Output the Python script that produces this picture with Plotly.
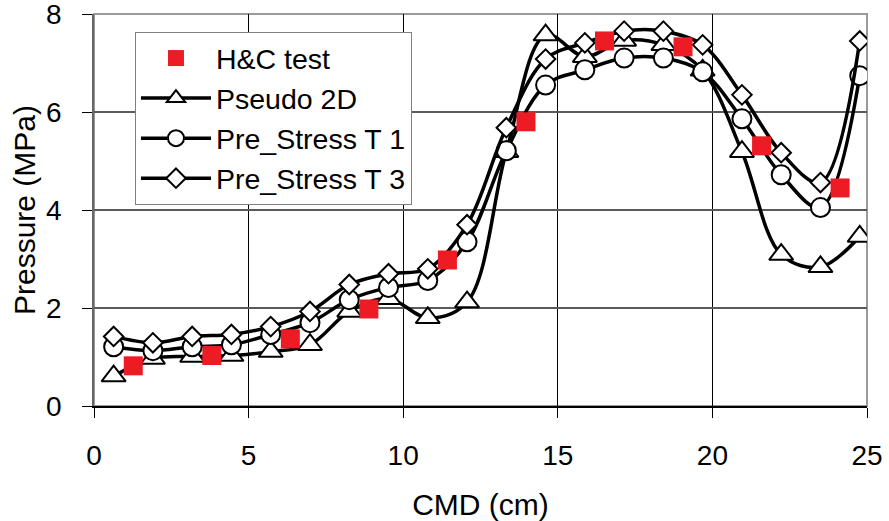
import plotly.graph_objects as go

# ---- data ----
cmd_sim = [0.635, 1.905, 3.175, 4.445, 5.715, 6.985, 8.255, 9.525, 10.795, 12.065,
           13.335, 14.605, 15.875, 17.145, 18.415, 19.685, 20.955, 22.225, 23.495, 24.765]
pseudo_2d = [0.61, 0.97, 1.01, 1.03, 1.11, 1.25, 1.93, 2.19, 1.80, 2.12,
             5.19, 7.57, 7.13, 7.46, 7.37, 6.85, 5.19, 3.09, 2.84, 3.46]
pre_stress_t1 = [1.21, 1.13, 1.21, 1.25, 1.46, 1.70, 2.17, 2.42, 2.56, 3.35,
                 5.21, 6.55, 6.86, 7.10, 7.10, 6.82, 5.86, 4.72, 4.05, 6.74]
pre_stress_t3 = [1.42, 1.29, 1.42, 1.46, 1.62, 1.93, 2.48, 2.70, 2.80, 3.70,
                 5.68, 7.08, 7.41, 7.65, 7.65, 7.37, 6.35, 5.17, 4.56, 7.45]

cmd_test = [1.27, 3.81, 6.35, 8.89, 11.43, 13.97, 16.51, 19.05, 21.59, 24.13]
hc_test = [0.82, 1.03, 1.37, 1.98, 2.98, 5.80, 7.45, 7.33, 5.31, 4.45]

x_ticks = [0, 5, 10, 15, 20, 25]
y_ticks = [0, 2, 4, 6, 8]

FONT = "Arial, Liberation Sans, sans-serif"
RED = "#ED1C24"

fig = go.Figure()

line_style = dict(color="black", width=3.5, shape="spline", smoothing=1.0)

fig.add_trace(go.Scatter(
    x=cmd_sim, y=pseudo_2d, name="Pseudo 2D", mode="lines+markers",
    line=line_style, legendrank=2,
    marker=dict(symbol="triangle-up", size=21, color="white",
                line=dict(color="black", width=2)),
))
fig.add_trace(go.Scatter(
    x=cmd_sim, y=pre_stress_t1, name="Pre_Stress T 1", mode="lines+markers",
    line=line_style, legendrank=3,
    marker=dict(symbol="circle", size=19, color="white",
                line=dict(color="black", width=2)),
))
fig.add_trace(go.Scatter(
    x=cmd_sim, y=pre_stress_t3, name="Pre_Stress T 3", mode="lines+markers",
    line=line_style, legendrank=4,
    marker=dict(symbol="diamond", size=15, color="white",
                line=dict(color="black", width=2)),
))
fig.add_trace(go.Scatter(
    x=cmd_test, y=hc_test, name="H&C test", mode="markers", legendrank=1,
    marker=dict(symbol="square", size=19, color=RED, line=dict(width=0)),
))

# gray plot-area frame (top/right)
fig.add_shape(type="rect", xref="x domain", yref="y domain", x0=0, x1=1, y0=0, y1=1,
              line=dict(color="#9a9a9a", width=2), layer="below")

fig.update_layout(
    width=889, height=521,
    margin=dict(l=94, r=22, t=14, b=115, autoexpand=False),
    paper_bgcolor="white", plot_bgcolor="white",
    font=dict(family=FONT, size=28, color="black"),
    showlegend=True,
    legend=dict(
        x=0.053, y=0.954, xanchor="left", yanchor="top",
        bgcolor="white", bordercolor="#808080", borderwidth=1,
        font=dict(family=FONT, size=28.5, color="black"),
        itemwidth=70, tracegroupgap=0,
    ),
    xaxis=dict(
        range=[0, 25], tickvals=x_ticks, ticktext=[str(v) for v in x_ticks],
        showgrid=True, gridcolor="black", gridwidth=1,
        showline=True, linecolor="black", linewidth=1.5,
        ticks="outside", ticklen=10, tickcolor="black", tickwidth=1,
        zeroline=False, automargin=False, ticklabelstandoff=14,
        ticklabeloverflow="allow",
        title=dict(text="CMD (cm)", font=dict(size=30), standoff=27),
        tickfont=dict(size=28),
    ),
    yaxis=dict(
        range=[0, 8], tickvals=y_ticks, ticktext=[str(v) for v in y_ticks],
        showgrid=True, gridcolor="#5a5a5a", gridwidth=1.5,
        showline=True, linecolor="#666666", linewidth=1.5,
        ticks="outside", ticklen=10, tickcolor="black", tickwidth=1,
        zeroline=False, automargin=False, ticklabelstandoff=15,
        ticklabeloverflow="allow",
        title=dict(text="Pressure (MPa)", font=dict(size=30), standoff=2),
        tickfont=dict(size=28),
    ),
)

# remove the browser's default 8px body margin so the 889x521 figure fills the window
fig.write_html(
    "out.html",
    config={"displayModeBar": False},
    post_script="document.body.style.margin='0';document.body.style.overflow='hidden';",
)
